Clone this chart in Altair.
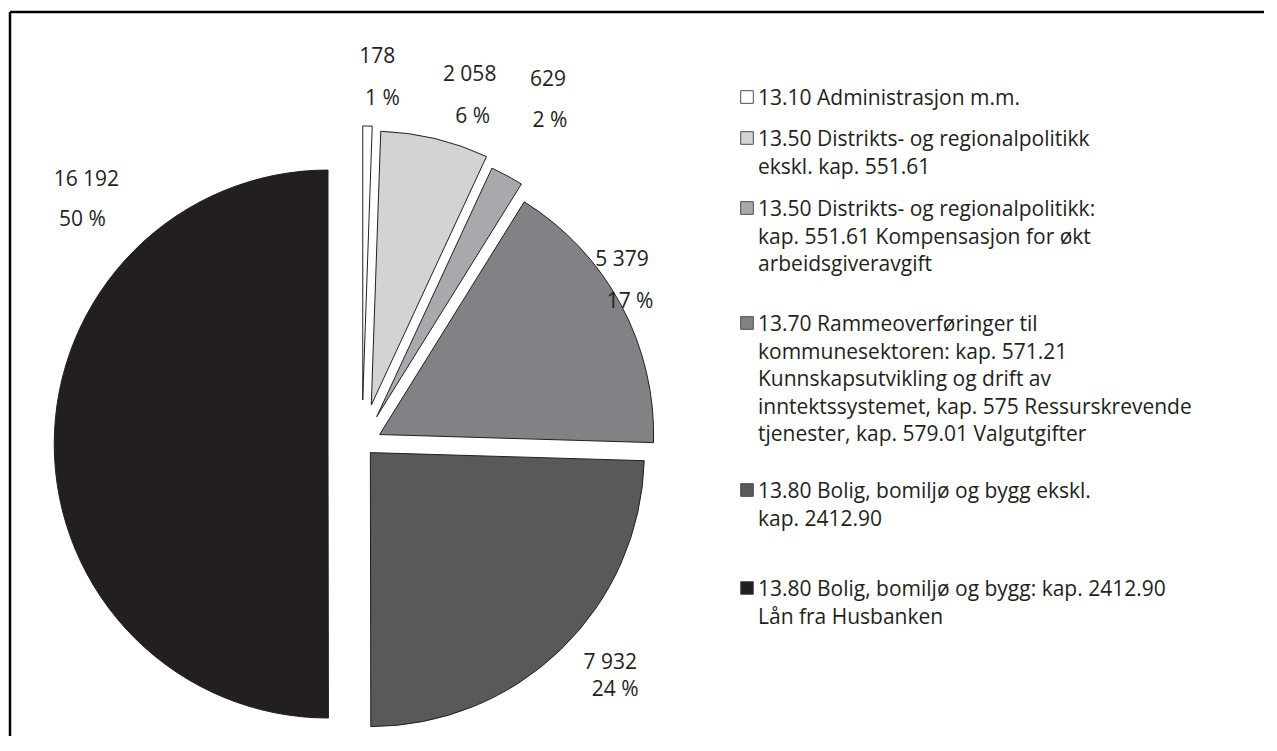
import altair as alt
import pandas as pd

# ---------------- data ----------------
CATEGORIES = [
    "13.10 Administrasjon m.m.",
    "13.50 Distrikts- og regionalpolitikk\nekskl. kap. 551.61",
    "13.50 Distrikts- og regionalpolitikk:\nkap. 551.61 Kompensasjon for økt\narbeidsgiveravgift",
    "13.70 Rammeoverføringer til\nkommunesektoren: kap. 571.21\nKunnskapsutvikling og drift av\ninntektssystemet, kap. 575 Ressurskrevende\ntjenester, kap. 579.01 Valgutgifter",
    "13.80 Bolig, bomiljø og bygg ekskl.\nkap. 2412.90",
    "13.80 Bolig, bomiljø og bygg: kap. 2412.90\nLån fra Husbanken",
]
VALUES = [178, 2058, 629, 5379, 7932, 16192]
PERCENTS = [1, 6, 2, 17, 24, 50]

# ---------------- styles ----------------
COLORS = ["#FFFFFF", "#D1D3D4", "#A7A9AC", "#808285", "#58595B", "#231F20"]
EXPLODE = [44, 40, 31, 20, 12, 34]                     # slice explosion (px)
LABEL_ANGLE = [2.4, 17.2, 28.4, 57.9, 133.1, 311.5]    # label direction (deg)
LABEL_RADIUS = [366, 364, 391, 307, 340, 368]          # label distance (px)
LABEL_GAP = [42, 42, 41, 42, 27, 40]                   # value line -> percent line
PCT_DX = [5, 3, 2, 8, 5, -4]                           # percent line x nudge
LEG_GAPS = [0, 13.5, 15, 32.5, 29.5, 43]               # extra space before entry
FONT = "Open Sans"
FS_PIE = 21
FS_LEG = 21
INK = "#231F20"
W, H = 1256, 728
CX, CY, R = 354, 436, 274
LEG_SQ_X, LEG_TX_X, LEG_Y0, LEG_LH = 739, 750, 89, 27.5

n = len(CATEGORIES)
df = pd.DataFrame({
    "cat": CATEGORIES,
    "value": VALUES,
    "idx": list(range(n)),
    "explode": EXPLODE,
    "la": LABEL_ANGLE,
    "lr": LABEL_RADIUS,
    "lgap": LABEL_GAP,
    "pdx": PCT_DX,
    "vlabel": [f"{v:,}".replace(",", " ") for v in VALUES],
    "plabel": [f"{p} %" for p in PERCENTS],
    "nlines": [c.count("\n") + 1 for c in CATEGORIES],
    "gap": pd.Series(LEG_GAPS).cumsum(),
})
df["lines_before"] = df["nlines"].cumsum() - df["nlines"]

base = alt.Chart(df)
color = alt.Color("cat:N", scale=alt.Scale(domain=CATEGORIES, range=COLORS), legend=None)

pie = base.transform_joinaggregate(
    total="sum(value)"
).transform_window(
    cum="sum(value)", sort=[alt.SortField("idx")], frame=[None, 0]
).transform_calculate(
    t0="2*PI*(datum.cum-datum.value)/datum.total",
    t1="2*PI*datum.cum/datum.total",
).transform_calculate(
    mid="(datum.t0+datum.t1)/2"
).transform_calculate(
    px=f"{CX} + datum.explode*sin(datum.mid)",
    py=f"{CY} - datum.explode*cos(datum.mid)",
).mark_arc(outerRadius=R, stroke=INK, strokeWidth=1).encode(
    theta=alt.Theta("t0:Q", scale=None, stack=None),
    theta2="t1:Q",
    x=alt.X("px:Q", scale=None),
    y=alt.Y("py:Q", scale=None),
    color=color,
)

lab = base.transform_calculate(
    lx=f"{CX} + datum.lr*sin(datum.la*PI/180)",
    ly=f"{CY} - datum.lr*cos(datum.la*PI/180)",
).transform_calculate(
    vy="datum.ly - datum.lgap/2",
    py="datum.ly + datum.lgap/2",
    px="datum.lx + datum.pdx",
)
val_labels = lab.mark_text(font=FONT, fontSize=FS_PIE, color=INK,
                           align="center", baseline="middle").encode(
    x=alt.X("lx:Q", scale=None),
    y=alt.Y("vy:Q", scale=None),
    text="vlabel:N",
)
pct_labels = lab.mark_text(font=FONT, fontSize=FS_PIE, color=INK,
                           align="center", baseline="middle").encode(
    x=alt.X("px:Q", scale=None),
    y=alt.Y("py:Q", scale=None),
    text="plabel:N",
)

leg = base.transform_calculate(
    legy=f"{LEG_Y0} + datum.lines_before*{LEG_LH} + datum.gap",
    lines="split(datum.cat, '\\n')",
)
leg_sq = leg.mark_square(size=160, stroke="#4D4D4F", strokeWidth=1, opacity=1).encode(
    x=alt.value(LEG_SQ_X),
    y=alt.Y("legy:Q", scale=None),
    color=color,
)
leg_tx = leg.mark_text(font=FONT, fontSize=FS_LEG, color=INK, lineHeight=LEG_LH,
                       align="left", baseline="top", dy=-9).encode(
    x=alt.value(LEG_TX_X),
    y=alt.Y("legy:Q", scale=None),
    text="lines:N",
)

frame_df = pd.DataFrame({"a": [0]})
frame_top = alt.Chart(frame_df).mark_rule(color="black", strokeWidth=2.5).encode(
    x=alt.value(2), x2=alt.value(W), y=alt.value(4)
)
frame_left = alt.Chart(frame_df).mark_rule(color="black", strokeWidth=2.5).encode(
    x=alt.value(2), y=alt.value(4), y2=alt.value(H)
)

chart = alt.layer(frame_top, frame_left, pie, val_labels, pct_labels, leg_sq, leg_tx).properties(
    width=W, height=H, padding=0, autosize="none", background="white"
).configure_view(stroke=None)

chart.save("out.html", embed_options={"renderer": "svg", "actions": False})
